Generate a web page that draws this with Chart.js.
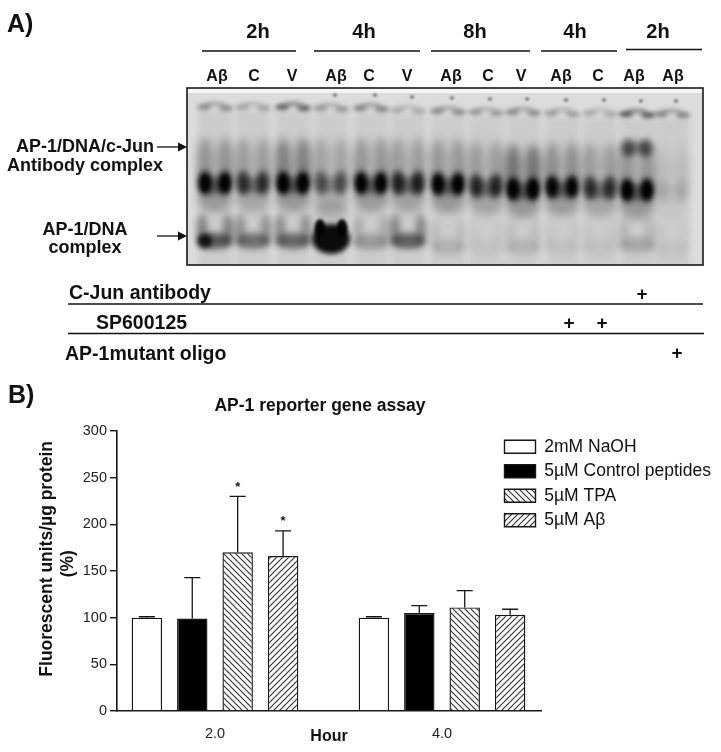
<!DOCTYPE html>
<html><head><meta charset="utf-8">
<script src="https://cdn.jsdelivr.net/npm/chart.js@4"></script>
<style>
html,body{margin:0;padding:0;background:#fff;width:721px;height:752px;overflow:hidden}
#page{position:relative;width:721px;height:752px;font-family:"Liberation Sans",Arial,sans-serif;color:#111;filter:blur(.45px)}
canvas{position:absolute;left:0;top:0}
svg{position:absolute;left:0;top:0}
.t{position:absolute;white-space:nowrap;font-weight:bold;transform:translate(-50%,-50%);line-height:1}
.l{transform:translate(0,-50%)}
</style></head><body><div id="page">
<canvas id="gel" width="721" height="275"></canvas>
<canvas id="assay" width="721" height="752"></canvas>
<svg width="721" height="752" id="deco">
 <g stroke="#111" stroke-width="1.3">
  <line x1="202" x2="296" y1="51" y2="51"/><line x1="314" x2="420" y1="51" y2="51"/>
  <line x1="431" x2="530" y1="51" y2="51"/><line x1="541" x2="617" y1="51" y2="51"/>
  <line x1="626" x2="702" y1="49.5" y2="49.5"/>
  <line x1="68" x2="703" y1="304" y2="304"/><line x1="68" x2="704" y1="333.5" y2="333.5"/>
  <line x1="157" x2="180" y1="147" y2="147"/><line x1="157" x2="180" y1="236" y2="236"/>
 </g>
 <polygon points="178,142.5 187,147 178,151.5" fill="#111"/>
 <polygon points="178,231.5 187,236 178,240.5" fill="#111"/>
</svg>
<div class="t l" style="left:7px;top:23px;font-size:25px">A)</div>
<div class="t l" style="left:8px;top:394px;font-size:25px">B)</div>
<div class="t" style="left:258px;top:31px;font-size:20px">2h</div>
<div class="t" style="left:364px;top:31px;font-size:20px">4h</div>
<div class="t" style="left:475px;top:31px;font-size:20px">8h</div>
<div class="t" style="left:575px;top:31px;font-size:20px">4h</div>
<div class="t" style="left:658px;top:31px;font-size:20px">2h</div>
<div class="t" style="left:85px;top:146px;font-size:18px">AP-1/DNA/c-Jun</div>
<div class="t" style="left:85px;top:165px;font-size:18px">Antibody complex</div>
<div class="t" style="left:85px;top:229px;font-size:18px">AP-1/DNA</div>
<div class="t" style="left:85px;top:247px;font-size:18px">complex</div>
<div class="t l" style="left:69px;top:293px;font-size:19.5px">C-Jun antibody</div>
<div class="t l" style="left:96px;top:323px;font-size:19.5px">SP600125</div>
<div class="t l" style="left:65px;top:354px;font-size:19.5px">AP-1mutant oligo</div>
<div class="t" style="left:642px;top:293px;font-size:19px">+</div>
<div class="t" style="left:569px;top:322px;font-size:19px">+</div>
<div class="t" style="left:602px;top:322px;font-size:19px">+</div>
<div class="t" style="left:677px;top:352px;font-size:19px">+</div>
</div>
<script>
// ---------- Panel A: gel ----------
const laneLabels   = ["Aβ","C","V","Aβ","C","V","Aβ","C","V","Aβ","C","Aβ","Aβ"];
const labelPos     = [217,254,292,336,369,407,451,488,521,561,598,634,673];
const laneCenters  = [215,253,293,331,371,408,448,486,523,562,600,637,672];
const wellMigration  = [19,19,19,20,20,22,23,24,24,25,25,26,26];
const mainMigration  = [95,95,95,95,95,95,96,98,101,99,100,102,103];
const lowerMigration = [154,154,154,150,155,154,160,160,160,160,160,158,162];
const wellSignal  = [.5,.35,.75,.42,.55,.3,.5,.42,.5,.4,.3,.8,.55];
const mainSignal  = [.98,.72,1,.52,.95,.82,.98,.78,1,.92,.72,1,.1];
const smearSignal = [.45,.38,.6,.32,.42,.38,.42,.38,.7,.48,.38,.42,.12];
const lowerSignal = [.75,.6,.65,1,.32,.7,.16,.06,.14,.07,.07,.22,.05];
const lowerLeftExtra = [.8,0,0,0,0,0,0,0,0,0,0,0,0];
const supershiftMigration = [60];
const supershiftLane = [637];
const supershiftSignal = [.55];

// ---------- Panel B: reporter gene assay ----------
const hours = [2,4];
const hourLabels = ["2.0","4.0"];
const naoh = [100,100];       const naohTop = [101,101];
const control = [99,105];     const controlTop = [143,113];
const tpa = [170,111];        const tpaTop = [230,129];
const abeta = [166,103];      const abetaTop = [193,109];
const seriesNames = ["2mM NaOH","5µM Control peptides","5µM TPA","5µM Aβ"];
const tops = [naohTop,controlTop,tpaTop,abetaTop];
const starred = [[false,false,true,true],[false,false,false,false]];

const INK="#161616";
const FONT='"Liberation Sans",Arial,sans-serif';

function hatch(dir){
  const s=6,c=document.createElement('canvas');c.width=c.height=s;
  const x=c.getContext('2d');x.fillStyle='#fff';x.fillRect(0,0,s,s);
  x.strokeStyle='#2a2a2a';x.lineWidth=1.05;x.beginPath();
  for(let k=-s;k<=2*s;k+=s){
    if(dir>0){x.moveTo(k-1,s+1);x.lineTo(k+s+1,-1);}
    else{x.moveTo(k-1,-1);x.lineTo(k+s+1,s+1);}
  }
  x.stroke();
  return document.getElementById('assay').getContext('2d').createPattern(c,'repeat');
}

function blob(ctx,x,y,rx,ry,a,blur){
  if(a<=0)return;
  ctx.filter=`blur(${blur}px)`;
  ctx.globalAlpha=Math.min(1,a);
  ctx.beginPath();ctx.ellipse(x,y,rx,ry,0,0,Math.PI*2);ctx.fill();
}

const gelPlugin={id:'gelPlugin',
  beforeDatasetsDraw(chart){
    const ctx=chart.ctx,a=chart.chartArea;
    const m=n=>chart.getDatasetMeta(n).data;
    ctx.save();
    ctx.beginPath();ctx.rect(a.left,a.top,a.right-a.left,a.bottom-a.top);ctx.clip();
    ctx.fillStyle='#dcdcdc';ctx.fillRect(a.left,a.top,a.right-a.left,a.bottom-a.top);
    ctx.fillStyle='#f4f4f4';ctx.fillRect(a.left,a.top,a.right-a.left,5);
    ctx.fillStyle='#000';
    m(0).forEach((p,i)=>{
      const x=p.x,y=p.y;
      // lane haze
      ctx.filter='blur(3px)';ctx.globalAlpha=.07;ctx.fillRect(x-17,y+4,34,a.bottom-y);
      // well band
      const w=wellSignal[i];
      blob(ctx,x-11,y,7,3.2,w*.7,2.2);blob(ctx,x+11,y+1,7,3.2,w*.7,2.2);
      blob(ctx,x,y-3,10,2.4,w*.45,2);
      if(i>=3) blob(ctx,x+4,y-13,2,1.8,.5,1);
      // main band
      const q=m(1)[i],L=mainSignal[i],S=smearSignal[i];
      blob(ctx,q.x-10,q.y-20,8,25,S*.65,5);blob(ctx,q.x+10,q.y-20,8,25,S*.65,5);
      blob(ctx,q.x,q.y+16,17,13,L*.26,4.5);
      blob(ctx,q.x,q.y+2,14,8,L*.46,3.2);
      blob(ctx,q.x-10,q.y,7,12,L*.95,3);blob(ctx,q.x+10,q.y,7,12,L*.95,3);
      if(L>.9){blob(ctx,q.x-10,q.y,4,8,L*.85,2);blob(ctx,q.x+10,q.y,4,8,L*.85,2);}
      // lower band
      const r=m(2)[i],I=lowerSignal[i];
      if(I>=1){
        blob(ctx,r.x,r.y+1,19,15,.95,2.5);
        blob(ctx,r.x-11,r.y-10,5.5,9,.95,1.5);blob(ctx,r.x+11,r.y-10,5.5,9,.95,1.5);
        blob(ctx,r.x,r.y-28,18,10,.12,4);
      }else{
        blob(ctx,r.x,r.y-1,17,8,I*.75,3.4);
        blob(ctx,r.x-13,r.y-12,5.5,16,I*.5,3.6);blob(ctx,r.x+13,r.y-12,5.5,16,I*.5,3.6);
        blob(ctx,r.x-10,r.y-1,7,7,lowerLeftExtra[i],2.4);
      }
    });
    m(3).forEach((p,i)=>{
      const s=supershiftSignal[i];
      blob(ctx,p.x-9,p.y,7,9,s,3.2);blob(ctx,p.x+9,p.y,7,9,s,3.2);blob(ctx,p.x,p.y,10,7,s*.5,3);
    });
    ctx.restore();
    ctx.save();ctx.strokeStyle='#1a1a1a';ctx.lineWidth=1.6;
    ctx.strokeRect(a.left,a.top,a.right-a.left,a.bottom-a.top);ctx.restore();
  }
};

new Chart(document.getElementById('gel'),{
  type:'scatter',
  data:{datasets:[
    {label:'well',data:laneCenters.map((x,i)=>({x,y:wellMigration[i]})),pointRadius:0},
    {label:'main',data:laneCenters.map((x,i)=>({x,y:mainMigration[i]})),pointRadius:0},
    {label:'lower',data:laneCenters.map((x,i)=>({x,y:lowerMigration[i]})),pointRadius:0},
    {label:'supershift',data:supershiftLane.map((x,i)=>({x,y:supershiftMigration[i]})),pointRadius:0}
  ]},
  plugins:[gelPlugin],
  options:{responsive:false,animation:false,events:[],
    layout:{padding:{left:187,right:18,top:0,bottom:10}},
    plugins:{legend:{display:false},title:{display:false},tooltip:{enabled:false}},
    scales:{
      x:{type:'linear',position:'top',min:187,max:703,
        grid:{display:false},border:{display:false},
        afterBuildTicks:s=>{s.ticks=labelPos.map(v=>({value:v}));},
        afterFit:s=>{s.height=88;},
        ticks:{autoSkip:false,maxRotation:0,padding:-6,color:'#111',
          font:{family:FONT,weight:'bold',size:16},
          callback:v=>laneLabels[labelPos.indexOf(v)]}},
      y:{type:'linear',display:false,min:0,max:177,reverse:true}
    }}
});

const assayPlugin={id:'assayPlugin',
  afterLayout(chart){
    const t=chart.titleBlock; t.left=0;t.right=640;t.top=396;t.bottom=417;
    const l=chart.legend; l.left=497.5;l.right=721;l.top=431;l.bottom=560;
  },
  afterDatasetsDraw(chart){
    const ctx=chart.ctx,y=chart.scales.y;
    ctx.save();ctx.strokeStyle=INK;ctx.lineWidth=1.3;ctx.fillStyle=INK;
    chart.data.datasets.forEach((d,di)=>{
      chart.getDatasetMeta(di).data.forEach((bar,i)=>{
        const top=y.getPixelForValue(tops[di][i]);
        ctx.beginPath();ctx.moveTo(bar.x,bar.y);ctx.lineTo(bar.x,top);
        ctx.moveTo(bar.x-8,top);ctx.lineTo(bar.x+8,top);ctx.stroke();
        if(starred[i][di]){
          ctx.font='bold 13px '+FONT;ctx.textAlign='center';ctx.textBaseline='middle';
          ctx.fillText('*',bar.x,top-9);
        }
      });
    });
    ctx.restore();
  }
};

const bar=(label,values,bg)=>({label,data:hours.map((h,i)=>({x:h,y:values[i]})),
  backgroundColor:bg,borderColor:INK,borderWidth:1.4,borderSkipped:'bottom',
  categoryPercentage:.8,barPercentage:.67});

new Chart(document.getElementById('assay'),{
  type:'bar',
  data:{datasets:[
    bar(seriesNames[0],naoh,'#ffffff'),
    bar(seriesNames[1],control,'#000000'),
    bar(seriesNames[2],tpa,hatch(-1)),
    bar(seriesNames[3],abeta,hatch(1))
  ]},
  plugins:[assayPlugin],
  options:{responsive:false,animation:false,events:[],
    layout:{padding:{left:30,right:180,top:410,bottom:0}},
    plugins:{
      tooltip:{enabled:false},
      title:{display:true,text:"AP-1 reporter gene assay",color:'#111',padding:0,
        font:{family:FONT,weight:'bold',size:17.5,lineHeight:1.2}},
      legend:{display:true,position:'chartArea',align:'start',
        labels:{boxWidth:31,boxHeight:13,padding:7,color:'#111',
          font:{family:FONT,size:17.5}}}
    },
    scales:{
      x:{type:'linear',offset:false,min:1.137,max:4.872,
        grid:{display:false},border:{display:true,color:INK,width:1.6},
        afterBuildTicks:s=>{s.ticks=hours.map(v=>({value:v}));},
        afterFit:s=>{s.height=41;},
        title:{display:true,text:"Hour",color:'#111',padding:{top:0,bottom:6},
          font:{family:FONT,weight:'bold',size:16,lineHeight:1.2}},
        ticks:{autoSkip:false,maxRotation:0,padding:6,color:'#222',
          font:{family:FONT,size:14.5},
          callback:v=>hourLabels[hours.indexOf(v)]}},
      y:{type:'linear',min:0,max:300,
        grid:{drawOnChartArea:false,drawTicks:true,tickLength:7,color:INK,lineWidth:1.4},
        border:{display:true,color:INK,width:1.6},
        afterFit:s=>{s.width=87;},
        title:{display:true,text:["     Fluorescent units/µg protein","   (%)"],color:'#111',padding:{top:6.5,bottom:0},
          font:{family:FONT,weight:'bold',size:17.5,lineHeight:1.2}},
        ticks:{stepSize:50,padding:3,color:'#222',font:{family:FONT,size:14.5}}}
    }}
});
</script></body></html>
